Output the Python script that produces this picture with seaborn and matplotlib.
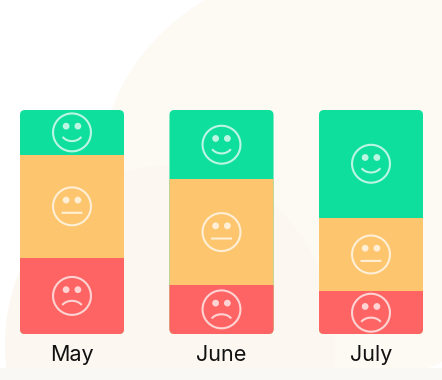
import numpy as np
import pandas as pd
import matplotlib
matplotlib.use("Agg")
import matplotlib.pyplot as plt
import seaborn as sns
from matplotlib.patches import Ellipse, FancyBboxPatch, Rectangle
from matplotlib.path import Path
from matplotlib.transforms import Bbox, IdentityTransform

# values (share of answers per month, percent)
months = ["May", "June", "July"]
happy = [20, 31, 48]
neutral = [46, 47, 33]
sad = [34, 22, 19]

GREEN = "#0fdf9c"
YELLOW = "#fdc66e"
RED = "#fe6464"
INK = "#111111"

sns.set_theme(style="white")
plt.rcParams["font.family"] = ["Inter", "DejaVu Sans"]


def arc(cx, cy, rx, ry, t0, t1, n=24):
    t = np.radians(np.linspace(t0, t1, n))
    return np.column_stack([cx + rx * np.cos(t), cy + ry * np.sin(t)])


def stroke_marker(parts):
    verts, codes = [], []
    for p in parts:
        verts.extend(p)
        codes.extend([Path.MOVETO] + [Path.LINETO] * (len(p) - 1))
    return Path(np.array(verts), codes)


ring = arc(0, 0, 1, 1, 0, 360, 72)
mouths = {
    "happy": stroke_marker([ring, arc(0, 0.02, 0.58, 0.48, 212, 328)]),
    "neutral": stroke_marker([ring, np.array([[-0.55, -0.34], [0.55, -0.34]])]),
    "sad": stroke_marker([ring, arc(0, -0.68, 0.58, 0.42, 28, 152)]),
}
# lone MOVETOs keep the eyes at the same scale as the ring
eye_parts = [arc(-0.31, 0.33, 0.18, 0.18, 0, 360, 20), arc(0.31, 0.33, 0.18, 0.18, 0, 360, 20)]
eyes = Path(
    np.vstack([[[-1, -1]], [[1, 1]]] + eye_parts),
    [Path.MOVETO, Path.MOVETO] + sum([[Path.MOVETO] + [Path.LINETO] * 19 for _ in eye_parts], []),
)

fig = plt.figure(figsize=(4.42, 3.80), dpi=100, facecolor="white")

# soft background shapes
bg = fig.add_axes([0, 0, 1, 1], zorder=0)
bg.set_xlim(0, 442)
bg.set_ylim(380, 0)
bg.axis("off")
bg.add_patch(Ellipse((335, 175), 470, 420, color="#fdfaf4", lw=0))
bg.add_patch(Ellipse((170, 345), 330, 360, color="#fcf8f1", lw=0))
bg.add_patch(Rectangle((0, 368), 442, 12, color="#f9f8f5", lw=0))

ax = fig.add_axes([0, 46 / 380, 1, 224 / 380], zorder=1)
ax.patch.set_alpha(0)

df = pd.DataFrame({"month": months, "happy": happy, "neutral": neutral, "sad": sad})
df["h_top"] = df["happy"] + df["neutral"] + df["sad"]
df["n_top"] = df["neutral"] + df["sad"]

# stacked by overdrawing running totals
for col, colour in [("h_top", GREEN), ("n_top", YELLOW), ("sad", RED)]:
    sns.barplot(data=df, x="month", y=col, color=colour, saturation=1, width=0.696,
                linewidth=0, ax=ax)

ax.set_xlim(-72 / 149.5, 370 / 149.5)
ax.set_ylim(0, 100)
ax.set_xlabel("")
ax.set_ylabel("")
ax.set_yticks([])
ax.tick_params(axis="x", length=0, pad=8, labelsize=15.5, labelcolor=INK)
sns.despine(ax=ax, left=True, bottom=True, top=True, right=True)

# rounded corners: clip each column to a rounded box
fig.canvas.draw()
bars = list(ax.patches)
n = len(months)
for i in range(n):
    col = [bars[i + k * n] for k in range(3)]
    box = Bbox.union([b.get_window_extent() for b in col])
    r = 5
    clip = FancyBboxPatch(
        (box.x0 + r, box.y0 + r), box.width - 2 * r, box.height - 2 * r,
        boxstyle=f"round,pad={r},rounding_size={r}", transform=IdentityTransform(),
    )
    for b in col:
        b.set_clip_path(clip)

xs = np.arange(n)
centers = {
    "sad": df["sad"] / 2,
    "neutral": df["sad"] + df["neutral"] / 2,
    "happy": df["n_top"] + df["happy"] / 2,
}
for name, ys in centers.items():
    sns.scatterplot(x=xs, y=ys.values, marker=mouths[name], s=745, facecolors="none",
                    edgecolors=(1, 1, 1, 0.72), linewidth=1.5, ax=ax, zorder=5, clip_on=False)
    sns.scatterplot(x=xs, y=ys.values, marker=eyes, s=745, facecolors=(1, 1, 1, 0.72),
                    edgecolors="none", linewidth=0, ax=ax, zorder=5, clip_on=False)
ax.set_xlim(-72 / 149.5, 370 / 149.5)
ax.set_ylim(0, 100)

fig.savefig("out.png", dpi=100)
